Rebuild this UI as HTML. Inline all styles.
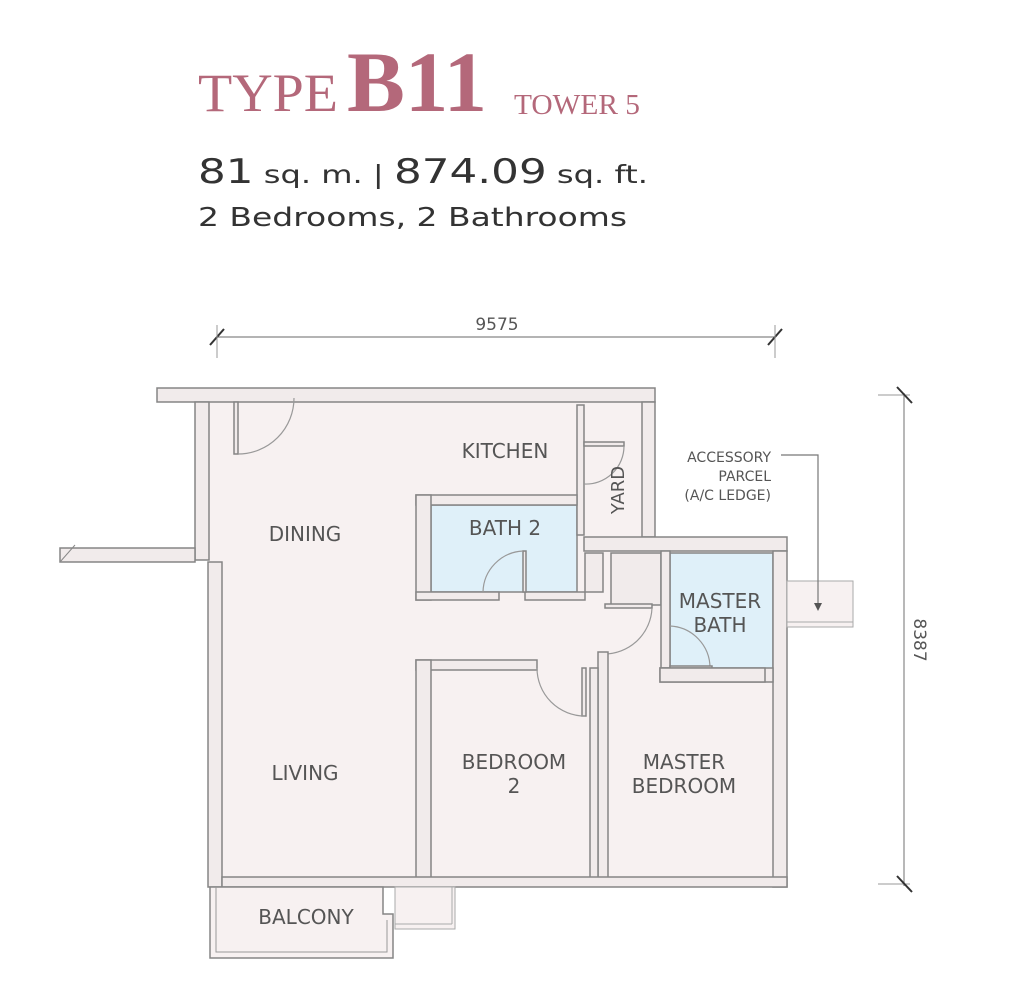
<!DOCTYPE html>
<html><head><meta charset="utf-8"><style>
html,body{margin:0;padding:0;background:#fff;width:1024px;height:984px;overflow:hidden}
svg{display:block}
.t{font-family:"DejaVu Sans","Liberation Sans",sans-serif;fill:#555;}
.w{fill:#f1ebeb;stroke:#858585;stroke-width:1.5}
.d{fill:none;stroke:#999;stroke-width:1.2}
</style></head><body>
<svg width="1024" height="984" viewBox="0 0 1024 984" xmlns="http://www.w3.org/2000/svg">
<!-- header -->
<text x="198" y="111" font-family="Liberation Serif,serif" font-size="54" fill="#b4687a" textLength="140" lengthAdjust="spacingAndGlyphs">TYPE</text>
<text x="347" y="111" font-family="Liberation Serif,serif" font-size="86" font-weight="bold" fill="#b4687a" textLength="140" lengthAdjust="spacingAndGlyphs">B11</text>
<text x="514" y="114" font-family="Liberation Serif,serif" font-size="28" fill="#b4687a" textLength="126" lengthAdjust="spacingAndGlyphs">TOWER 5</text>
<text x="198" y="183" font-family="DejaVu Sans,sans-serif" font-size="34" fill="#333" textLength="450" lengthAdjust="spacingAndGlyphs">81<tspan font-size="25"> sq. m.  |  </tspan>874.09<tspan font-size="25"> sq. ft.</tspan></text>
<text x="198" y="226" font-family="DejaVu Sans,sans-serif" font-size="26" fill="#333" textLength="429" lengthAdjust="spacingAndGlyphs">2 Bedrooms, 2 Bathrooms</text>

<!-- dimension lines -->
<line x1="217" y1="337" x2="775" y2="337" stroke="#888" stroke-width="1.2"/>
<line x1="210" y1="345" x2="224" y2="329" stroke="#333" stroke-width="2"/>
<line x1="768" y1="345" x2="782" y2="329" stroke="#333" stroke-width="2"/>
<line x1="217" y1="325" x2="217" y2="358" stroke="#999" stroke-width="1"/>
<line x1="775" y1="325" x2="775" y2="358" stroke="#999" stroke-width="1"/>
<text x="497" y="330" class="t" font-size="17" text-anchor="middle">9575</text>
<line x1="904" y1="393" x2="904" y2="886" stroke="#888" stroke-width="1.2"/>
<line x1="878" y1="395" x2="910" y2="395" stroke="#999" stroke-width="1"/>
<line x1="878" y1="884" x2="910" y2="884" stroke="#999" stroke-width="1"/>
<line x1="897" y1="387" x2="912" y2="403" stroke="#333" stroke-width="2"/>
<line x1="897" y1="876" x2="912" y2="892" stroke="#333" stroke-width="2"/>
<text class="t" font-size="17" transform="translate(914 640) rotate(90)" text-anchor="middle">8387</text>

<!-- floor fill -->
<polygon points="209,402 642,402 642,537 787,537 787,885 209,885" fill="#f7f1f1"/>
<!-- blue baths -->
<rect x="431" y="505" width="146" height="87" fill="#dff0f9" stroke="#858585" stroke-width="1.5"/>
<rect x="670" y="553" width="103" height="116" fill="#dff0f9" stroke="#858585" stroke-width="1.5"/>

<!-- walls -->
<rect class="w" x="157" y="388" width="498" height="14"/>
<rect class="w" x="195" y="402" width="14" height="158"/>
<rect class="w" x="60" y="548" width="135" height="14"/>
<line x1="60" y1="562" x2="75" y2="545" stroke="#888"/>
<rect class="w" x="208" y="562" width="14" height="325"/>
<rect class="w" x="234" y="402" width="4" height="52"/>
<path class="d" d="M238,454 A56,56 0 0 0 294,398"/>
<rect class="w" x="642" y="402" width="13" height="135"/>
<rect class="w" x="577" y="405" width="7" height="130"/>
<rect class="w" x="584" y="442" width="40" height="4"/>
<path class="d" d="M624,446 A38,38 0 0 1 584,484"/>
<!-- bath2 walls -->
<rect class="w" x="416" y="495" width="161" height="10"/>
<rect class="w" x="416" y="495" width="15" height="105"/>
<rect class="w" x="416" y="592" width="83" height="8"/>
<rect class="w" x="525" y="592" width="60" height="8"/>
<rect class="w" x="523" y="551" width="3" height="41"/>
<path class="d" d="M523,551 A42,42 0 0 0 483,592"/>
<!-- corridor/service walls -->
<rect class="w" x="584" y="537" width="203" height="14"/>
<rect class="w" x="585" y="553" width="18" height="39"/>
<rect class="w" x="611" y="553" width="50" height="52"/>
<rect class="w" x="661" y="551" width="9" height="117"/>
<rect class="w" x="605" y="604" width="47" height="4"/>
<path class="d" d="M652,608 A48,48 0 0 1 604,654"/>
<rect class="w" x="598" y="652" width="10" height="233"/>
<rect class="w" x="773" y="551" width="14" height="336"/>
<path class="d" d="M670,626 A42,42 0 0 1 710,668"/>
<rect class="w" x="670" y="666" width="42" height="4"/>
<rect class="w" x="660" y="668" width="113" height="14"/>
<rect class="w" x="660" y="668" width="105" height="14"/>
<!-- bedroom2 walls -->
<rect class="w" x="416" y="660" width="121" height="10"/>
<rect class="w" x="416" y="660" width="15" height="220"/>
<rect class="w" x="582" y="668" width="4" height="48"/>
<path class="d" d="M537,668 A48,48 0 0 0 585,716"/>
<rect class="w" x="590" y="668" width="8" height="217"/>
<!-- bottom wall -->
<rect class="w" x="222" y="877" width="565" height="10"/>
<!-- balcony -->
<rect x="395" y="887" width="60" height="42" fill="#f7f1f1" stroke="#aaa"/>
<line x1="395" y1="924" x2="452" y2="924" stroke="#aaa"/>
<line x1="452" y1="887" x2="452" y2="924" stroke="#aaa"/>
<path d="M210,887 L210,958 L393,958 L393,914 L383,914 L383,887 Z" fill="#f7f1f1" stroke="#858585" stroke-width="1.5"/>
<path d="M216,887 L216,952 L387,952 L387,920" fill="none" stroke="#999"/>
<!-- accessory parcel -->
<rect x="787" y="581" width="66" height="46" fill="#f7f1f1" stroke="#aaa"/>
<line x1="787" y1="622" x2="853" y2="622" stroke="#aaa"/>
<polyline points="781,455 818,455 818,606" fill="none" stroke="#777" stroke-width="1.2"/>
<polygon points="814,603 822,603 818,611" fill="#555"/>
<text class="t" font-size="14" x="771" y="462" text-anchor="end">ACCESSORY</text>
<text class="t" font-size="14" x="771" y="481" text-anchor="end">PARCEL</text>
<text class="t" font-size="14" x="771" y="500" text-anchor="end">(A/C LEDGE)</text>

<!-- labels -->
<text class="t" font-size="20" x="505" y="458" text-anchor="middle">KITCHEN</text>
<text class="t" font-size="18" transform="translate(624 490) rotate(-90)" text-anchor="middle">YARD</text>
<text class="t" font-size="20" x="305" y="541" text-anchor="middle">DINING</text>
<text class="t" font-size="20" x="505" y="535" text-anchor="middle">BATH 2</text>
<text class="t" font-size="20" x="720" y="608" text-anchor="middle">MASTER</text>
<text class="t" font-size="20" x="720" y="632" text-anchor="middle">BATH</text>
<text class="t" font-size="20" x="305" y="780" text-anchor="middle">LIVING</text>
<text class="t" font-size="20" x="514" y="769" text-anchor="middle">BEDROOM</text>
<text class="t" font-size="20" x="514" y="793" text-anchor="middle">2</text>
<text class="t" font-size="20" x="684" y="769" text-anchor="middle">MASTER</text>
<text class="t" font-size="20" x="684" y="793" text-anchor="middle">BEDROOM</text>
<text class="t" font-size="20" x="306" y="924" text-anchor="middle">BALCONY</text>
</svg>
</body></html>
